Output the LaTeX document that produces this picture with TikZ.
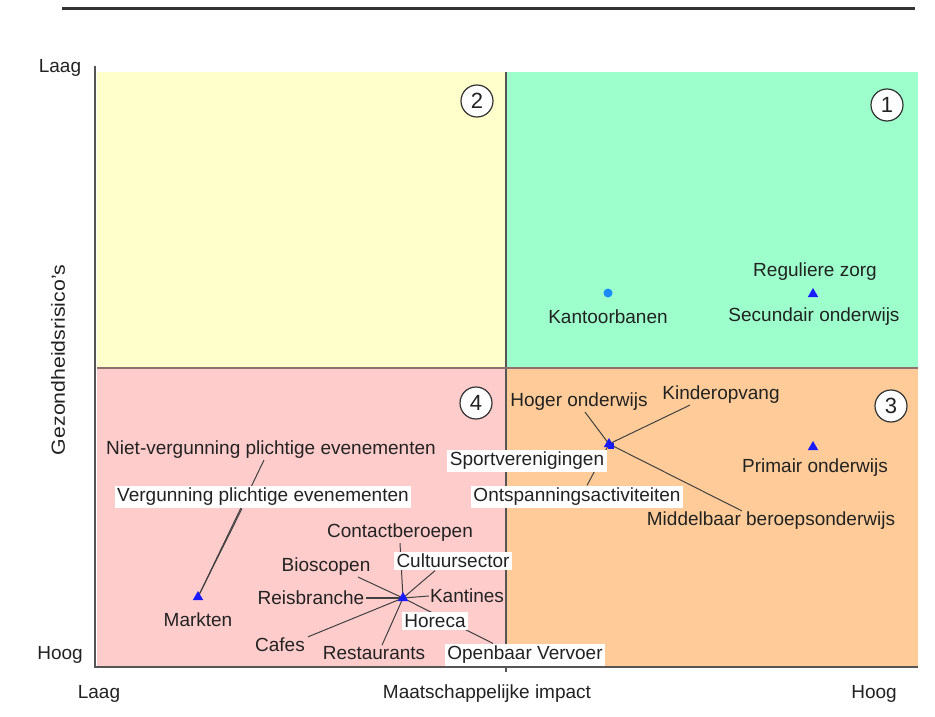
\documentclass[tikz,border=0pt]{standalone}
\usepackage{fontspec}
\setmainfont{Liberation Sans}
\usetikzlibrary{shapes.geometric}
\pgfdeclarelayer{back}
\pgfdeclarelayer{mid}
\pgfsetlayers{back,mid,main}
\definecolor{qyellow}{HTML}{FFFFCC}
\definecolor{qgreen}{HTML}{9CFFCC}
\definecolor{qpink}{HTML}{FFCCCC}
\definecolor{qorange}{HTML}{FFCC99}
\definecolor{axisgray}{HTML}{555555}
\definecolor{divbrown}{HTML}{8F6F6F}
\definecolor{ptblue}{HTML}{1A1AFF}
\definecolor{dotblue}{HTML}{1A8CFF}
\definecolor{txt}{HTML}{222222}
\begin{document}
\begin{tikzpicture}[x=1pt,y=-1pt,
  lbl/.style={font=\fontsize{19}{21}\selectfont, inner sep=1pt, text=txt},
  wlbl/.style={lbl, fill=white, inner sep=2.5pt},
  axlbl/.style={font=\fontsize{19}{21}\selectfont, inner sep=0pt, text=txt},
  tri/.style={regular polygon, regular polygon sides=3, fill=ptblue, inner sep=0pt, minimum size=12pt},
  dotpt/.style={circle, fill=dotblue, inner sep=0pt, minimum size=9pt},
  num/.style={circle, draw=black!80, line width=1.2pt, fill=white, minimum size=32pt, inner sep=0pt, font=\fontsize{22}{24}\selectfont, text=txt},
  conn/.style={draw=black!75, line width=1pt}]
\useasboundingbox (0,0) rectangle (935,717);

% ---------- background ----------
\begin{pgfonlayer}{back}
\fill[white] (0,0) rectangle (935,717);
\fill[qyellow] (97,72) rectangle (506,368);
\fill[qgreen] (506,72) rectangle (918,368);
\fill[qpink] (97,368) rectangle (506,666);
\fill[qorange] (506,368) rectangle (918,666);
\draw[black!80, line width=3pt] (62,9) -- (915,9);
\draw[axisgray, line width=1.5pt] (95,66) -- (95,668);
\draw[axisgray, line width=2.5pt] (94,667) -- (918,667);
\draw[axisgray, line width=1.5pt] (506,72) -- (506,672);
\draw[divbrown, line width=1.5pt] (97,368) -- (918,368);
\end{pgfonlayer}

% ---------- axis labels ----------
\node[axlbl] (ylow) at (60,68) {Laag};
\node[axlbl] (yhigh) at (60,655) {Hoog};
\node[axlbl, rotate=90] (ytitle) at (58,360) {\scalebox{1.12}[1]{Gezondheidsrisico's}};
\node[axlbl] (xlow) at (99,694) {Laag};
\node[axlbl] (xtitle) at (487,694) {Maatschappelijke impact};
\node[axlbl] (xhigh) at (874,694) {Hoog};

% ---------- quadrant numbers ----------
\node[num] (q2) at (477,101) {2};
\node[num] (q1) at (887,105) {1};
\node[num] (q4) at (476,403) {4};
\node[num] (q3) at (891,406) {3};

% ---------- quadrant 1 ----------
\node[dotpt] (kant) at (608,293) {};
\node[lbl] (kantl) at (608,317) {Kantoorbanen};
\node[tri] (sec) at (813,294) {};
\node[lbl] (regl) at (815,272) {Reguliere zorg};
\node[lbl] (secl) at (814,317) {Secundair onderwijs};

% ---------- quadrant 3 ----------
\node[tri] (prim) at (813,447) {};
\node[lbl] (priml) at (815,468) {Primair onderwijs};

\node[tri] (c1) at (609,444) {};
\node[fill=ptblue, inner sep=0pt, minimum size=6pt] (c1b) at (611,446) {};
\node[lbl] (hoger) at (579,402) {Hoger onderwijs};
\node[lbl] (kinder) at (721,395) {Kinderopvang};
\node[lbl] (mbo) at (771,521) {Middelbaar beroepsonderwijs};
\node[wlbl] (sport) at (527,461) {Sportverenigingen};
\node[wlbl] (onts) at (577,497) {Ontspanningsactiviteiten};

% ---------- quadrant 4 ----------
\node[tri] (markt) at (198,597) {};
\node[lbl] (marktl) at (198,620) {Markten};
\node[lbl] (niet) at (271,450) {Niet-vergunning plichtige evenementen};
\node[wlbl] (verg) at (263,497) {Vergunning plichtige evenementen};

\node[tri] (c2) at (403,598) {};
\node[lbl] (contact) at (400,533) {Contactberoepen};
\node[wlbl] (cult) at (453,561) {Cultuursector};
\node[lbl] (bios) at (326,567) {Bioscopen};
\node[lbl] (reis) at (311,598) {Reisbranche};
\node[lbl] (kantines) at (467,596) {Kantines};
\node[wlbl] (horeca) at (435,621) {Horeca};
\node[wlbl] (ov) at (525,655) {Openbaar Vervoer};
\node[lbl] (cafes) at (280,645) {Cafes};
\node[lbl] (rest) at (374,653) {Restaurants};

% ---------- connectors ----------
\begin{pgfonlayer}{mid}
\draw[conn] (c1.center) -- ([xshift=6pt]hoger.south);
\draw[conn] (c1.center) -- ([xshift=-31pt]kinder.south);
\draw[conn] (c1.center) -- ([xshift=-29pt]mbo.north);
\draw[conn] (c1.center) -- ([xshift=10pt]onts.north);

\draw[conn] (markt.center) -- ([xshift=-7pt]niet.south);
\draw[conn] (markt.center) -- ([xshift=-21pt]verg.south);

\draw[conn] (c2.center) -- (contact.south);
\draw[conn] (c2.center) -- ([xshift=-18pt]cult.south);
\draw[conn] (c2.center) -- ([xshift=32pt]bios.south);
\draw[conn, line width=1.8pt] (c2.center) -- (reis.east);
\draw[conn] (c2.center) -- (kantines.west);
\draw[conn] (c2.center) -- ([xshift=-32pt]ov.north);
\draw[conn] (c2.center) -- ([xshift=28pt]cafes.north);
\draw[conn] (c2.center) -- ([xshift=8pt]rest.north);
\end{pgfonlayer}
\end{tikzpicture}
\end{document}
